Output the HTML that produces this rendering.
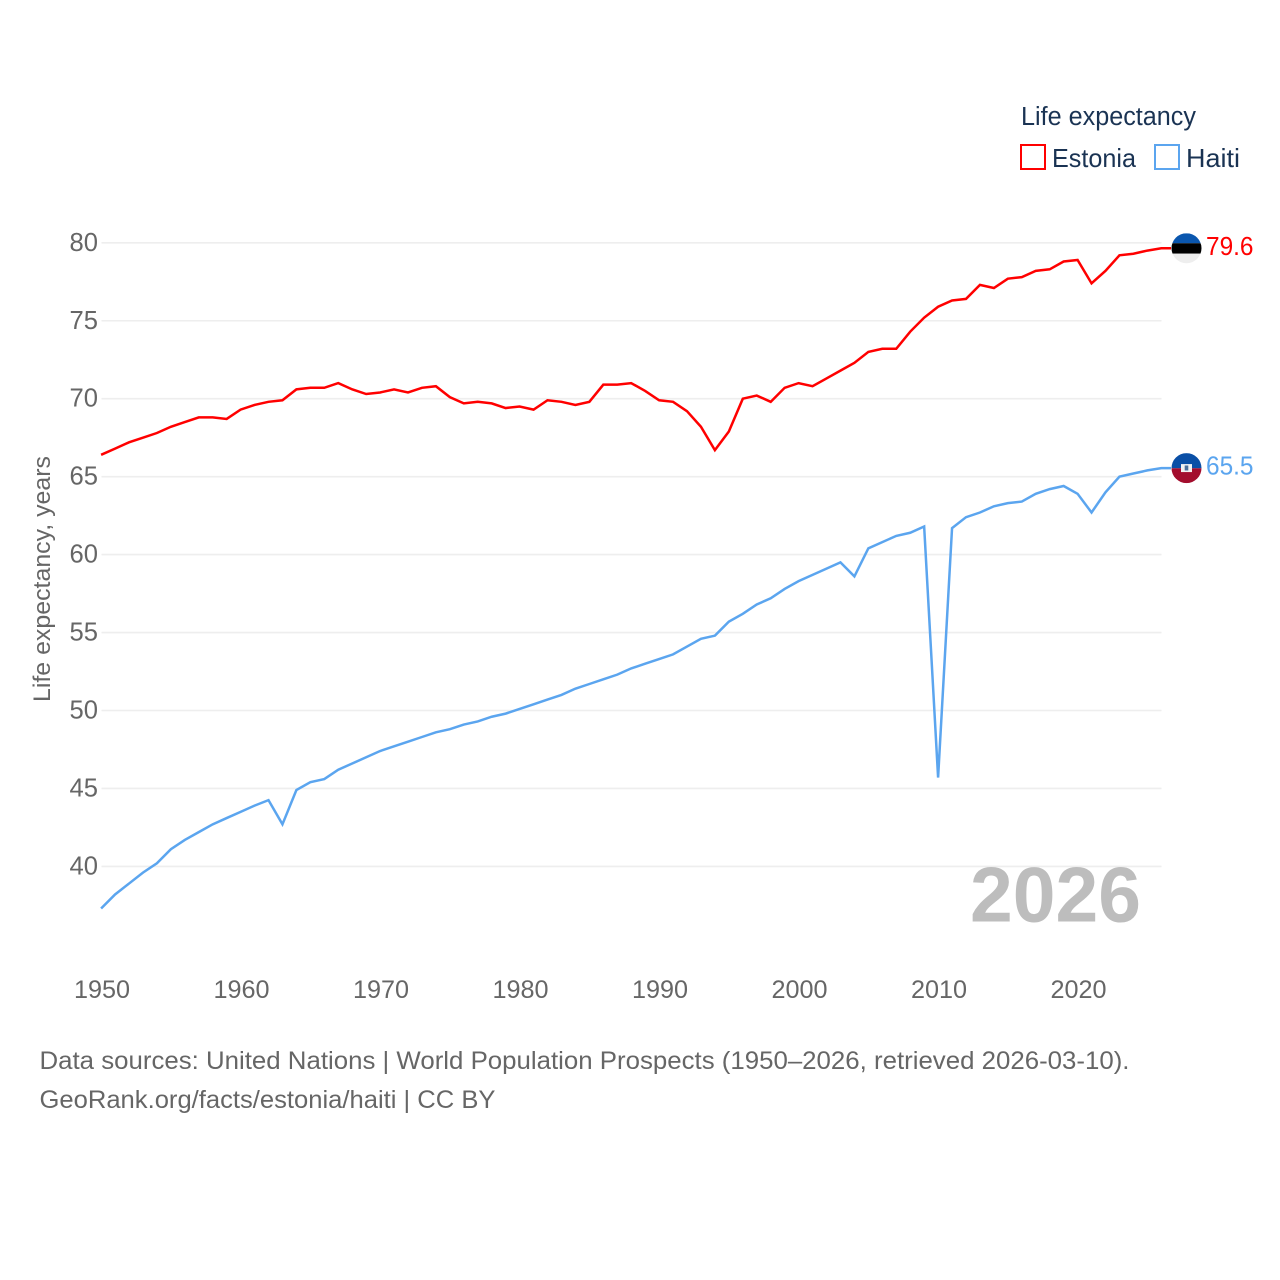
<!DOCTYPE html>
<html lang="en">
<head>
<meta charset="utf-8">
<title>Life expectancy: Estonia and Haiti</title>
<style>
html,body{margin:0;padding:0;background:#fff;}
svg{display:block;}
text{font-family:"Liberation Sans",sans-serif;}
</style>
</head>
<body>
<svg id="chart" xmlns="http://www.w3.org/2000/svg" width="1280" height="1280" viewBox="0 0 1280 1280">
  <g id="grid"></g>
  <g id="y-ticks"></g>
  <g id="x-ticks"></g>
  <text transform="translate(50,579) rotate(-90)" text-anchor="middle" font-size="24" fill="#666666" textLength="246" lengthAdjust="spacingAndGlyphs">Life expectancy, years</text>
  <text x="970" y="921.5" font-size="78" font-weight="700" fill="#bdbdbd" textLength="171" lengthAdjust="spacingAndGlyphs">2026</text>
  <g id="series"></g>
  <g id="ends"></g>

  <g>
    <text x="1021" y="125" font-size="25.5" fill="#1a3353" textLength="175" lengthAdjust="spacingAndGlyphs">Life expectancy</text>
    <g>
      <rect x="1021" y="145" width="24" height="24" fill="#fff" stroke="#ff0000" stroke-width="2"></rect>
      <text x="1052" y="167" font-size="26" fill="#1a3353" textLength="84" lengthAdjust="spacingAndGlyphs">Estonia</text>
    </g>
    <g>
      <rect x="1155" y="145" width="24" height="24" fill="#fff" stroke="#5ba5ef" stroke-width="2"></rect>
      <text x="1186" y="167" font-size="26" fill="#1a3353" textLength="54" lengthAdjust="spacingAndGlyphs">Haiti</text>
    </g>
  </g>

  <g>
    <text x="39.5" y="1069" font-size="25" fill="#666666" textLength="1090" lengthAdjust="spacingAndGlyphs">Data sources: United Nations | World Population Prospects (1950–2026, retrieved 2026-03-10).</text>
    <text x="39.5" y="1108" font-size="25" fill="#666666" textLength="456" lengthAdjust="spacingAndGlyphs">GeoRank.org/facts/estonia/haiti | CC BY</text>
  </g>
</svg>
<script>
const xTickYears = [1950, 1960, 1970, 1980, 1990, 2000, 2010, 2020];
const yTickValues = [40, 45, 50, 55, 60, 65, 70, 75, 80];
const firstYear = 1950;
const estoniaValues = [
  66.4, 66.8, 67.2, 67.5, 67.8, 68.2, 68.5, 68.8, 68.8, 68.7,
  69.3, 69.6, 69.8, 69.9, 70.6, 70.7, 70.7, 71.0, 70.6, 70.3,
  70.4, 70.6, 70.4, 70.7, 70.8, 70.1, 69.7, 69.8, 69.7, 69.4,
  69.5, 69.3, 69.9, 69.8, 69.6, 69.8, 70.9, 70.9, 71.0, 70.5,
  69.9, 69.8, 69.2, 68.2, 66.7, 67.9, 70.0, 70.2, 69.8, 70.7,
  71.0, 70.8, 71.3, 71.8, 72.3, 73.0, 73.2, 73.2, 74.3, 75.2,
  75.9, 76.3, 76.4, 77.3, 77.1, 77.7, 77.8, 78.2, 78.3, 78.8,
  78.9, 77.4, 78.2, 79.2, 79.3, 79.5, 79.65
];
const haitiValues = [
  37.3, 38.2, 38.9, 39.6, 40.2, 41.1, 41.7, 42.2, 42.7, 43.1,
  43.5, 43.9, 44.25, 42.7, 44.9, 45.4, 45.6, 46.2, 46.6, 47.0,
  47.4, 47.7, 48.0, 48.3, 48.6, 48.8, 49.1, 49.3, 49.6, 49.8,
  50.1, 50.4, 50.7, 51.0, 51.4, 51.7, 52.0, 52.3, 52.7, 53.0,
  53.3, 53.6, 54.1, 54.6, 54.8, 55.7, 56.2, 56.8, 57.2, 57.8,
  58.3, 58.7, 59.1, 59.5, 58.6, 60.4, 60.8, 61.2, 61.4, 61.8,
  45.7, 61.7, 62.4, 62.7, 63.1, 63.3, 63.4, 63.9, 64.2, 64.4,
  63.9, 62.7, 64.0, 65.0, 65.2, 65.4, 65.55
];
const estoniaEndLabel = ["79.6"];
const haitiEndLabel = ["65.5"];

const NS = "http://www.w3.org/2000/svg";
function xScale(year) { return 101.1 + (year - 1950) * 13.95; }
function yScale(value) { return 242.8 + (80 - value) * 15.59; }
function make(tag, parent, attrs, text) {
  const el = document.createElementNS(NS, tag);
  for (const k in attrs) el.setAttribute(k, attrs[k]);
  if (text !== undefined) el.textContent = text;
  parent.appendChild(el);
  return el;
}

const gridG = document.getElementById("grid");
const yG = document.getElementById("y-ticks");
const xG = document.getElementById("x-ticks");
const seriesG = document.getElementById("series");
const endsG = document.getElementById("ends");

yTickValues.forEach(function (v) {
  const line = make("line", gridG, { x1: 101.5, x2: 1161.5, y1: yScale(v), y2: yScale(v), stroke: "#eeeeee", "stroke-width": 1.6 });
  
  
  const label = make("text", yG, { x: 98, y: yScale(v) + 8, "text-anchor": "end", "font-size": 25.6, fill: "#666666" }, String(v));
  
  
});

xTickYears.forEach(function (year) {
  const label = make("text", xG, { x: xScale(year) + 0.9, y: 998, "text-anchor": "middle", "font-size": 25.2, fill: "#666666" }, String(year));
  
  
});

function drawLine(values, color, name) {
  const pts = values.map(function (v, i) { return xScale(firstYear + i).toFixed(2) + "," + yScale(v).toFixed(2); });
  const last = values[values.length - 1];
  pts.push("1171," + yScale(last).toFixed(2));
  const line = make("polyline", seriesG, { points: pts.join(" "), fill: "none", stroke: color, "stroke-width": 2.5, "stroke-linejoin": "miter" });
  
  
}
drawLine(estoniaValues, "#ff0000", "series-line-estonia");
drawLine(haitiValues, "#5ba5ef", "series-line-haiti");

const defs = make("defs", endsG, {});
const clip = make("clipPath", defs, { id: "flag-clip" });
make("circle", clip, { cx: 0, cy: 0, r: 15 });

function drawEnd(values, label, color, name) {
  const last = values[values.length - 1];
  const cy = yScale(last);
  const g = make("g", endsG, { transform: "translate(1186.5," + cy.toFixed(2) + ")" });
  
  
  const inner = make("g", g, { "clip-path": "url(#flag-clip)" });
  if (name === "estonia") {
    make("rect", inner, { x: -15, y: -15, width: 30, height: 10, fill: "#0a56ae" });
    make("rect", inner, { x: -15, y: -5, width: 30, height: 10.4, fill: "#000000" });
    make("rect", inner, { x: -15, y: 5.4, width: 30, height: 10, fill: "#eeeeee" });
  } else {
    make("rect", inner, { x: -15, y: -15, width: 30, height: 15.2, fill: "#0a4fa6" });
    make("rect", inner, { x: -15, y: 0.2, width: 30, height: 15, fill: "#a30d2d" });
    make("rect", inner, { x: -5.5, y: -4, width: 11, height: 8, fill: "#f2f2f2" });
    make("rect", inner, { x: -1.8, y: -2.6, width: 3.6, height: 5, fill: "#4a6f9c" });
  }
  const txt = make("text", endsG, { x: 1206, y: cy + 6.6, "font-size": 25.6, fill: color, textLength: 47.5, lengthAdjust: "spacingAndGlyphs" }, label);
  
  
}
drawEnd(estoniaValues, estoniaEndLabel[0], "#ff0000", "estonia");
drawEnd(haitiValues, haitiEndLabel[0], "#5ba5ef", "haiti");
</script>
</body>
</html>
